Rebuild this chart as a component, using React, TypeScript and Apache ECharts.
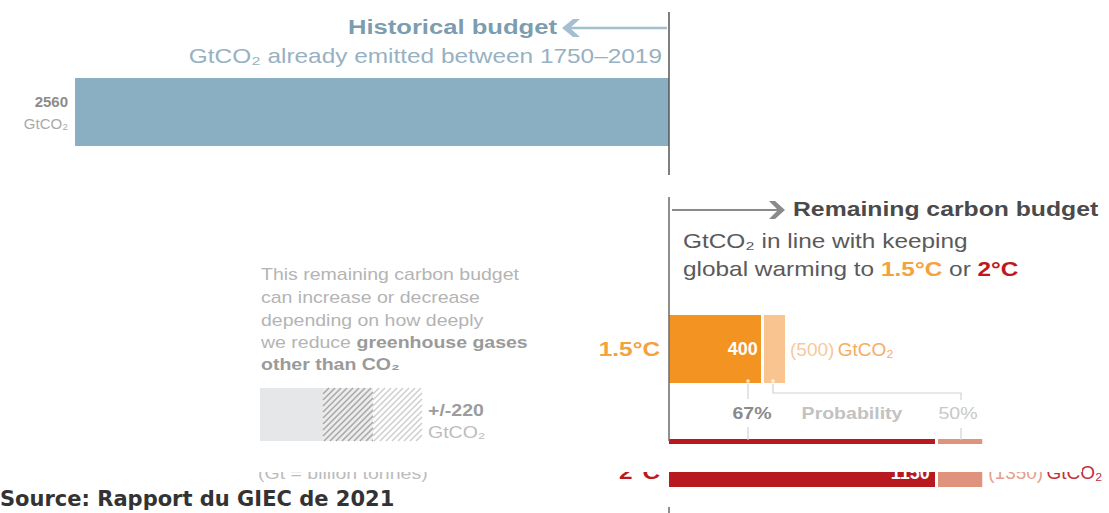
import React, { useEffect, useRef } from "react";
import * as echarts from "echarts";

// ---- data ----
const historicalValue = [2560]; // GtCO2 emitted 1750–2019
const scenarios = ["1.5°C", "2°C"];
const budget67 = [400, 1150]; // 67% probability
const budget50 = [500, 1350]; // 50% probability
const nonCo2Range = [220]; // +/- GtCO2
const probLabels = ["67%", "Probability", "50%"];

// ---- layout ----
const W = 1109;
const H = 513;
const AXIS_X = 669;
const LEFT = 75;
const PX = (AXIS_X - LEFT) / historicalValue[0];
const XMIN = -historicalValue[0];
const XMAX = (W - LEFT) / PX - historicalValue[0];
const SX = 1.22;
const FF = '"Liberation Sans", Arial, Helvetica, sans-serif';

const C = {
  hist: "#8aafc3",
  histTitle: "#7c9db0",
  histSub: "#97b1c2",
  axis: "#555555",
  orange: "#f39322",
  orangeLight: "#f9c48f",
  orangeText: "#f4a13e",
  red: "#b8191e",
  redLight: "#e0937c",
  redText: "#c0171d",
  gray: "#4a4a4a",
  note: "#b4b4b4",
  noteBold: "#9a9a9a",
};

function T(x: number, y: number, text: string, o: any = {}) {
  return {
    type: "text",
    x,
    y,
    scaleX: o.sx ?? SX,
    z: o.z ?? 10,
    style: {
      text,
      fill: o.fill ?? "#555",
      fontSize: o.size ?? 20,
      fontWeight: o.weight ?? "normal",
      fontFamily: o.family ?? FF,
      align: o.align ?? "left",
      verticalAlign: "middle",
      rich: o.rich,
    },
  };
}

function hatch(x0: number, x1: number, y0: number, y1: number, step: number, color: string) {
  const out: any[] = [];
  const h = y1 - y0;
  for (let c = x0 - h; c < x1; c += step) {
    let sx = c, sy = y1, ex = c + h, ey = y0;
    if (sx < x0) { sy = y1 - (x0 - sx); sx = x0; }
    if (ex > x1) { ey = y0 + (ex - x1); ex = x1; }
    if (ex <= sx) continue;
    out.push({ type: "line", z: 5, shape: { x1: sx, y1: sy, x2: ex, y2: ey }, style: { stroke: color, lineWidth: 1.6 } });
  }
  return out;
}

export default function App() {
  const ref = useRef<HTMLDivElement>(null);
  useEffect(() => {
    if (!ref.current) return;
    const chart = echarts.init(ref.current, undefined, { renderer: "svg" });

    const grids = [
      { left: LEFT, right: 0, top: 78, height: 68 },
      { left: LEFT, right: 0, top: 315, height: 68 },
      { left: LEFT, right: 0, top: 439, height: 48 },
    ];
    const xAxes = grids.map((_, i) => ({ type: "value", gridIndex: i, min: XMIN, max: XMAX, show: false }));
    const yAxes = [[""], [scenarios[0]], [scenarios[1]]].map((d, i) => ({
      type: "category",
      gridIndex: i,
      data: d,
      axisLine: { show: false },
      axisTick: { show: false },
      axisLabel: { show: false },
    }));

    const gap = (v: number) => ({
      silent: true,
      symbol: "none",
      label: { show: false },
      lineStyle: { color: "#ffffff", width: 3, type: "solid" },
      data: [{ xAxis: v }],
    });

    const series: any[] = [
      {
        type: "bar",
        xAxisIndex: 0,
        yAxisIndex: 0,
        data: [-historicalValue[0]],
        barWidth: "100%",
        itemStyle: { color: C.hist },
        label: {
          show: true,
          position: "left",
          distance: 7,
          align: "right",
          formatter: () => `{a|${historicalValue[0]}}\n{b|GtCO₂}`,
          rich: {
            a: { fontFamily: FF, fontSize: 15, fontWeight: "bold", color: "#8c8c8c", align: "right", lineHeight: 22 },
            b: { fontFamily: FF, fontSize: 15, color: "#a8a8a8", align: "right", lineHeight: 22 },
          },
        },
      },
      {
        type: "bar",
        xAxisIndex: 1,
        yAxisIndex: 1,
        data: [budget50[0]],
        barWidth: "100%",
        barGap: "-100%",
        itemStyle: { color: C.orangeLight },
        label: {
          show: true,
          position: "right",
          distance: 5,
          formatter: () => `{a|(${budget50[0]})} {b|GtCO₂}`,
          rich: {
            a: { fontFamily: FF, fontSize: 19, color: "#f9c89b" },
            b: { fontFamily: FF, fontSize: 19, color: "#f5ad66" },
          },
        },
      },
      {
        type: "bar",
        xAxisIndex: 1,
        yAxisIndex: 1,
        data: [budget67[0]],
        barWidth: "100%",
        barGap: "-100%",
        itemStyle: { color: C.orange },
        label: {
          show: true,
          position: "insideRight",
          distance: 4,
          formatter: () => `${budget67[0]}`,
          color: "#ffffff",
          fontFamily: FF,
          fontWeight: "bold",
          fontSize: 18,
        },
        markLine: gap(budget67[0]),
      },
      {
        type: "bar",
        xAxisIndex: 2,
        yAxisIndex: 2,
        data: [budget50[1]],
        barWidth: "100%",
        barGap: "-100%",
        itemStyle: { color: C.redLight },
        label: {
          show: true,
          position: "right",
          distance: 6,
          offset: [0, 9],
          formatter: () => `{a|(${budget50[1]})} {b|GtCO₂}`,
          rich: {
            a: { fontFamily: FF, fontSize: 19, color: "#e4a08c" },
            b: { fontFamily: FF, fontSize: 19, color: "#c0303a" },
          },
        },
      },
      {
        type: "bar",
        xAxisIndex: 2,
        yAxisIndex: 2,
        data: [budget67[1]],
        barWidth: "100%",
        barGap: "-100%",
        itemStyle: { color: C.red },
        label: {
          show: true,
          position: "insideRight",
          distance: 6,
          offset: [0, 10],
          formatter: () => `${budget67[1]}`,
          color: "#ffffff",
          fontFamily: FF,
          fontWeight: "bold",
          fontSize: 18,
        },
        markLine: gap(budget67[1]),
      },
    ];

    const noteLines = [
      { t: "This remaining carbon budget", y: 275 },
      { t: "can increase or decrease", y: 298 },
      { t: "depending on how deeply", y: 321 },
      { t: "we reduce {b|greenhouse gases}", y: 343 },
      { t: "{b|other than CO₂}", y: 365 },
    ];
    const noteRich = { b: { fill: C.noteBold, color: C.noteBold, fontWeight: "bold", fontSize: 16, fontFamily: FF } };

    const graphic: any[] = [
      // axis lines
      { type: "line", z: 20, shape: { x1: AXIS_X, y1: 12, x2: AXIS_X, y2: 175 }, style: { stroke: C.axis, lineWidth: 1.5 } },
      { type: "line", z: 20, shape: { x1: AXIS_X, y1: 197, x2: AXIS_X, y2: 441 }, style: { stroke: "#6a6a6a", lineWidth: 1.5 } },
      { type: "line", z: 20, shape: { x1: AXIS_X, y1: 507, x2: AXIS_X, y2: 513 }, style: { stroke: "#6a6a6a", lineWidth: 1.5 } },
      // historical arrow
      { type: "line", z: 10, shape: { x1: 570, y1: 28, x2: 667, y2: 28 }, style: { stroke: "#a4c0d0", lineWidth: 2.5 } },
      { type: "polygon", z: 10, shape: { points: [[562, 28], [573, 19], [580, 19], [570, 28], [580, 37], [573, 37]] }, style: { fill: "#a4c0d0" } },
      T(557, 27, "Historical budget", { align: "right", weight: "bold", fill: C.histTitle, size: 21 }),
      T(662, 56, "GtCO₂ already emitted between 1750–2019", { align: "right", fill: C.histSub }),
      // remaining arrow
      { type: "line", z: 10, shape: { x1: 672, y1: 210, x2: 778, y2: 210 }, style: { stroke: "#8a8a8a", lineWidth: 2 } },
      { type: "polygon", z: 10, shape: { points: [[785, 210], [775, 201], [769, 201], [778, 210], [769, 219], [775, 219]] }, style: { fill: "#8a8a8a" } },
      T(793, 209, "Remaining carbon budget", { weight: "bold", fill: C.gray, size: 20.3 }),
      T(683, 241, "GtCO₂ in line with keeping", { fill: "#5a5a5a" }),
      T(683, 269, "global warming to {o|1.5°C} or {r|2°C}", {
        fill: "#5a5a5a",
        rich: {
          o: { fill: C.orangeText, color: C.orangeText, fontWeight: "bold", fontSize: 20, fontFamily: FF },
          r: { fill: C.redText, color: C.redText, fontWeight: "bold", fontSize: 20, fontFamily: FF },
        },
      }),
      // scenario labels
      T(660, 349, scenarios[0], { align: "right", weight: "bold", fill: C.orangeText }),
      T(660, 472, scenarios[1], { align: "right", weight: "bold", fill: C.redText }),
      // probability markers
      { type: "circle", z: 12, shape: { cx: 748, cy: 381, r: 1.8 }, style: { fill: "#fde6cc" } },
      { type: "circle", z: 12, shape: { cx: 773, cy: 381, r: 1.8 }, style: { fill: "#fff3e6" } },
      { type: "line", z: 10, shape: { x1: 748, y1: 384, x2: 748, y2: 399 }, style: { stroke: "#d2d2d2", lineWidth: 1.2 } },
      { type: "polyline", z: 10, shape: { points: [[773, 384], [773, 393], [961, 393], [961, 400]] }, style: { stroke: "#d2d2d2", lineWidth: 1.2, fill: null } },
      { type: "line", z: 10, shape: { x1: 748, y1: 427, x2: 748, y2: 440 }, style: { stroke: "#d2d2d2", lineWidth: 1.2 } },
      { type: "line", z: 10, shape: { x1: 961, y1: 428, x2: 961, y2: 440 }, style: { stroke: "#d2d2d2", lineWidth: 1.2 } },
      T(752, 414, probLabels[0], { align: "center", weight: "bold", fill: "#8a8a8a", size: 16 }),
      T(852, 414, probLabels[1], { align: "center", weight: "bold", fill: "#c2c2c2", size: 16 }),
      T(958, 414, probLabels[2], { align: "center", fill: "#c8c8c8", size: 16 }),
      // note text
      ...noteLines.map((l) => T(261, l.y, l.t, { fill: C.note, size: 16, rich: noteRich })),
      // uncertainty swatch
      { type: "rect", z: 4, shape: { x: 260, y: 388, width: 63, height: 53 }, style: { fill: "#e6e7e8" } },
      { type: "rect", z: 4, shape: { x: 323, y: 388, width: 50, height: 53 }, style: { fill: "#ececec" } },
      ...hatch(323, 373, 388, 441, 6, "#a9a9a9"),
      ...hatch(373, 422, 388, 441, 6, "#cfcfcf"),
      T(428, 411, `+/-${nonCo2Range[0]}`, { weight: "bold", fill: "#9c9c9c", size: 16 }),
      T(428, 433, "GtCO₂", { fill: "#bcbcbc", size: 16 }),
      T(258, 474, "(Gt = billion tonnes)", { fill: "#bcbcbc", size: 16 }),
      // white strip across the lower part of the figure
      { type: "rect", z: 50, shape: { x: 0, y: 444, width: 1082, height: 28 }, style: { fill: "#ffffff" } },
      // source
      T(0, 499, "Source: Rapport du GIEC de 2021", {
        sx: 1,
        z: 60,
        size: 21,
        weight: "bold",
        fill: "#333333",
        family: '"DejaVu Sans", sans-serif',
      }),
    ];

    chart.setOption({
      animation: false,
      backgroundColor: "#ffffff",
      grid: grids,
      xAxis: xAxes,
      yAxis: yAxes,
      series,
      graphic,
    });
    return () => chart.dispose();
  }, []);

  return (
    <div
      ref={ref}
      style={{ position: "fixed", left: 0, top: 0, width: W, height: H, background: "#fff" }}
    />
  );
}
